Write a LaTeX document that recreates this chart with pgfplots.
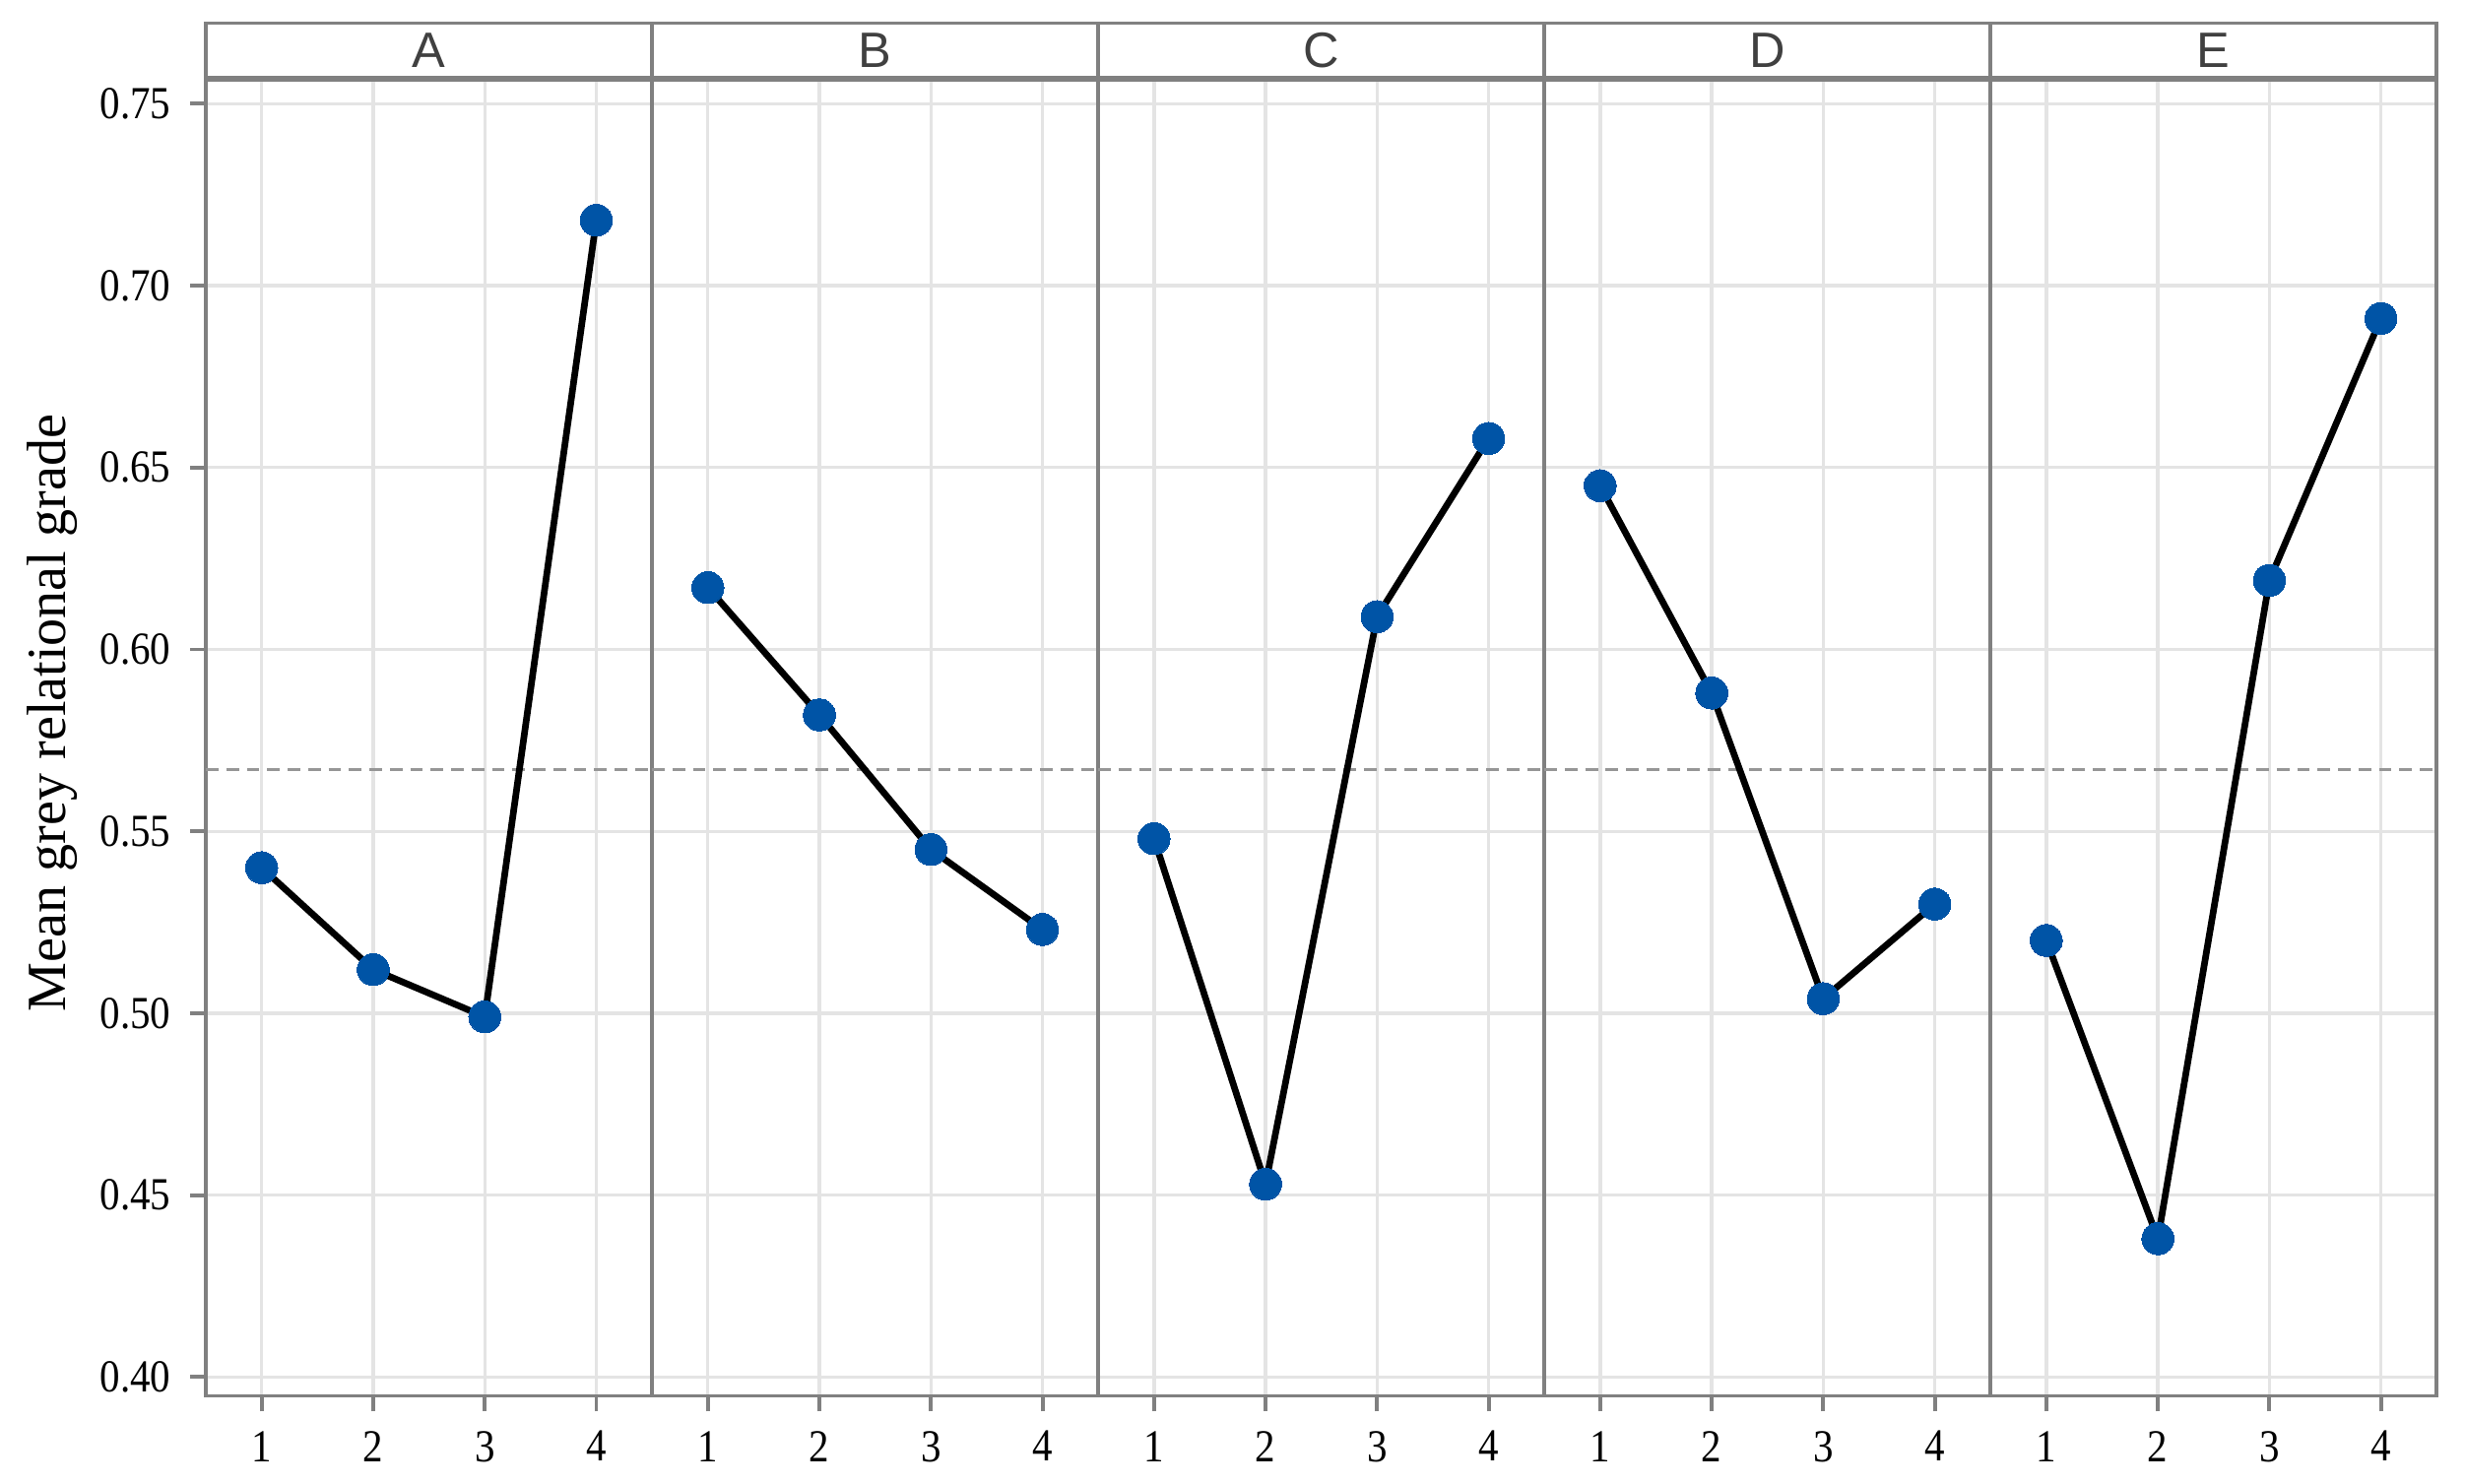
\documentclass[border=0pt]{standalone}
\usepackage{fontspec}
\setmainfont{Liberation Serif}
\newfontfamily\tickfont[FakeStretch=0.88]{Liberation Serif}
\newfontfamily\stripfont{Liberation Sans}
\usepackage{pgfplots}
\pgfplotsset{compat=1.18}

\definecolor{framegray}{RGB}{128,128,128}
\definecolor{gridgray}{RGB}{228,228,228}
\definecolor{markblue}{RGB}{0,84,166}
\definecolor{meangray}{RGB}{150,150,150}

\pgfplotsset{
  panel/.style={
    scale only axis, width=28.38mm, height=83.7mm,
    xmin=0.5, xmax=4.5, ymin=0.3948, ymax=0.7565,
    xtick={1,2,3,4}, ytick={0.40,0.45,0.50,0.55,0.60,0.65,0.70,0.75},
    grid=major, major grid style={gridgray, line width=0.6pt},
    axis line style={framegray, line width=0.7pt},
    tick style={framegray, line width=0.7pt},
    tick align=outside, major tick length=1mm,
    xtick pos=bottom, ytick pos=left,
    /pgf/number format/assume math mode=true,
    tick label style={font=\tickfont\fontsize{8.3}{10}\selectfont, black},
    yticklabel={\pgfmathprintnumber[fixed,fixed zerofill,precision=2]{\tick}},
    every axis title shift=0pt,
    title style={at={(0.5,1)}, anchor=south, yshift=0pt, draw=framegray, line width=0.7pt,
      minimum width=28.38mm, minimum height=3.5mm, inner sep=0pt,
      font=\stripfont\fontsize{9}{10}\selectfont, text=black!75},
  },
  inner/.style={panel, yticklabels={}, every y tick/.style={draw=none}},
  mean/.style={meangray, line width=0.6pt, dash pattern=on 0.8mm off 0.5mm, forget plot},
  effect/.style={black, line width=1.2pt, mark=*, mark size=2.9pt,
    mark options={draw=markblue, fill=markblue, line width=0pt, solid}},
}

\begin{document}
\begin{tikzpicture}
\path[use as bounding box] (-13.1mm,-5.6mm) rectangle (143.7mm,88.8mm);

% A
\begin{axis}[panel, at={(0mm,0mm)}, title={A},
  ylabel={Mean grey relational grade},
  ylabel style={at={(axis description cs:-0.345,0.519)}, anchor=center,
    font=\fontsize{10}{12}\selectfont}]
\addplot[mean] coordinates {(0.5,0.567) (4.5,0.567)};
\addplot[effect] coordinates {(1,0.540) (2,0.512) (3,0.499) (4,0.718)};
\end{axis}

% B
\begin{axis}[inner, at={(28.38mm,0mm)}, title={B}]
\addplot[mean] coordinates {(0.5,0.567) (4.5,0.567)};
\addplot[effect] coordinates {(1,0.617) (2,0.582) (3,0.545) (4,0.523)};
\end{axis}

% C
\begin{axis}[inner, at={(56.76mm,0mm)}, title={C}]
\addplot[mean] coordinates {(0.5,0.567) (4.5,0.567)};
\addplot[effect] coordinates {(1,0.548) (2,0.453) (3,0.609) (4,0.658)};
\end{axis}

% D
\begin{axis}[inner, at={(85.14mm,0mm)}, title={D}]
\addplot[mean] coordinates {(0.5,0.567) (4.5,0.567)};
\addplot[effect] coordinates {(1,0.645) (2,0.588) (3,0.504) (4,0.530)};
\end{axis}

% E
\begin{axis}[inner, at={(113.52mm,0mm)}, title={E}]
\addplot[mean] coordinates {(0.5,0.567) (4.5,0.567)};
\addplot[effect] coordinates {(1,0.520) (2,0.438) (3,0.619) (4,0.691)};
\end{axis}
\end{tikzpicture}
\end{document}
